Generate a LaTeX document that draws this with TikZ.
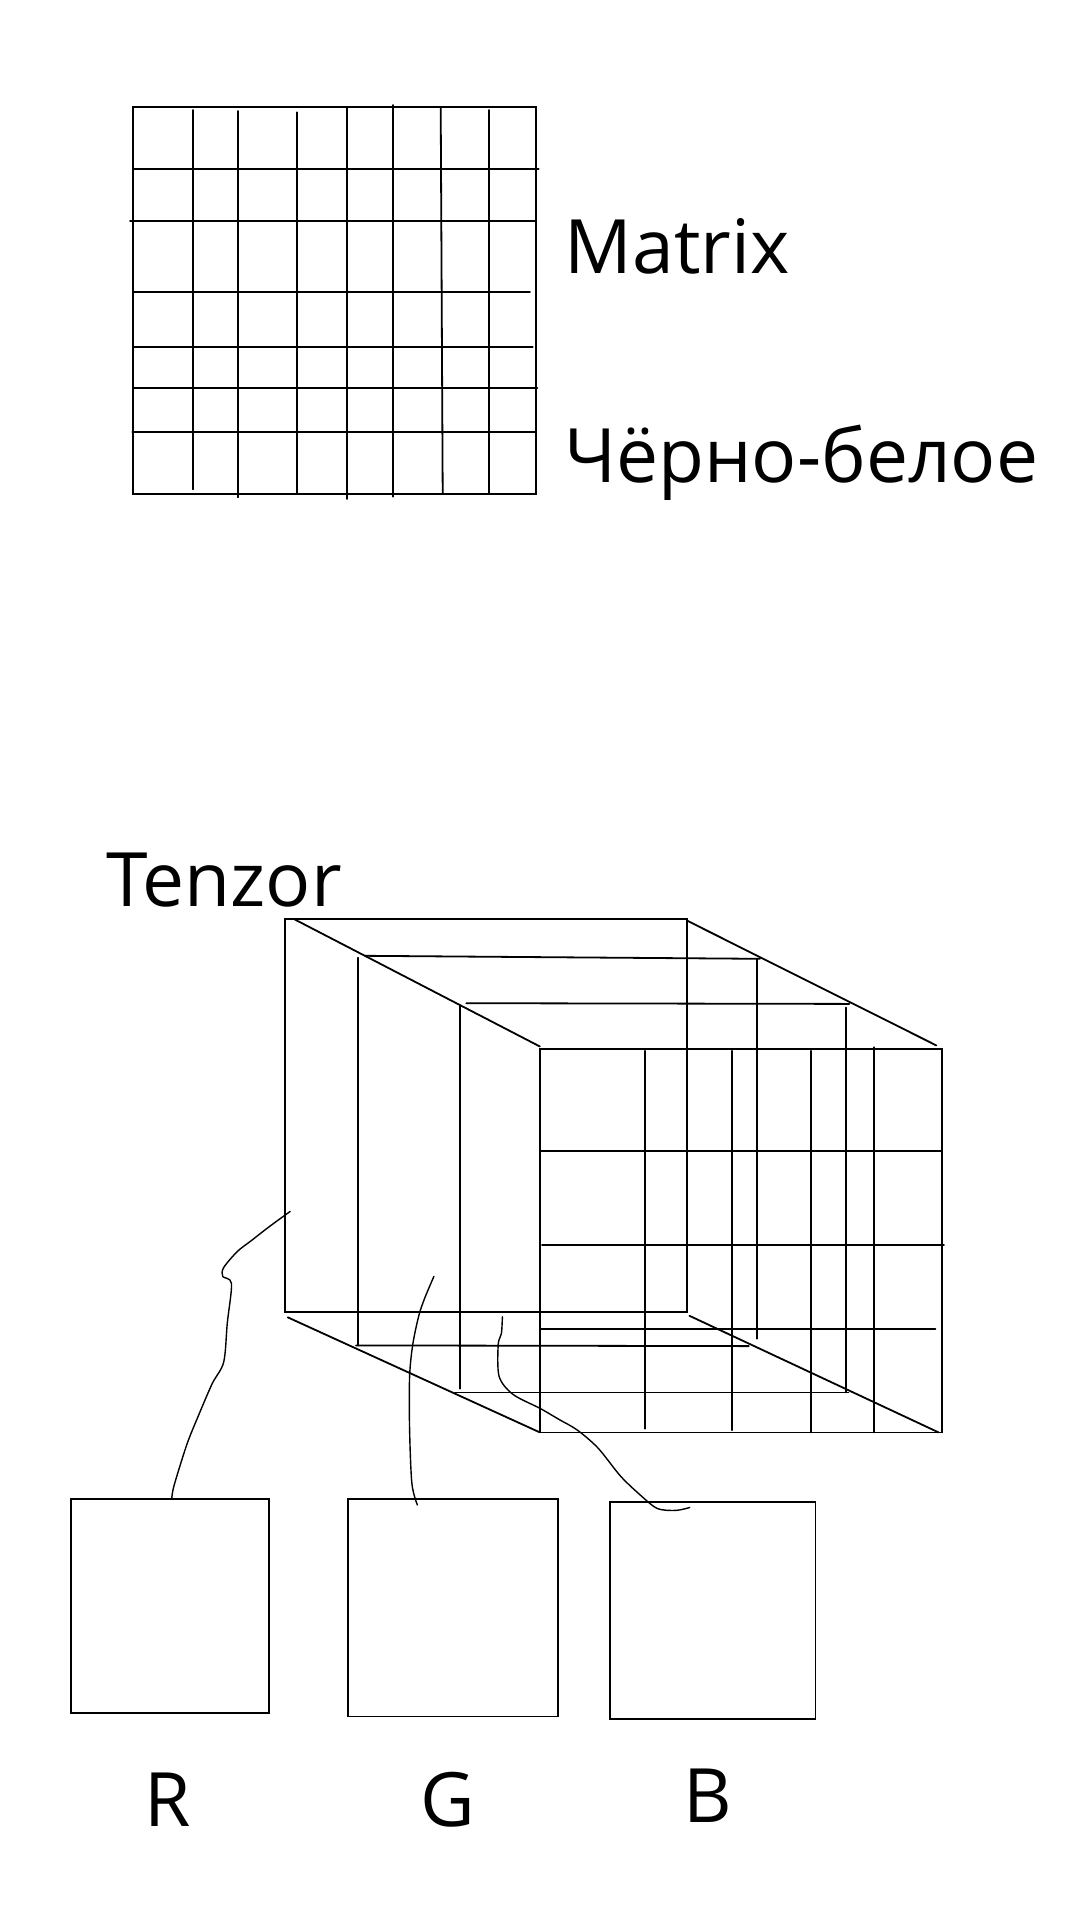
\documentclass[tikz,border=0pt]{standalone}
\usepackage{fontspec}
\setmainfont{Open Sans}
\begin{document}
\begin{tikzpicture}[x=1pt,y=-1pt,
  ln/.style={line width=1.8pt, line cap=round},
  wire/.style={line width=1.4pt, line cap=round, line join=round},
  chbox/.style={draw, line width=1.8pt, inner sep=0pt, outer sep=0pt},
  lbl/.style={anchor=base west, inner sep=0pt, font=\fontsize{75}{80}\selectfont}]
\useasboundingbox (0,0) rectangle (1080,1920);
\fill[white] (0,0) rectangle (1080,1920);

% ---------- Matrix grid ----------
\draw[ln] (133.3,106.7) rectangle (536,494);
\draw[ln] (193.3,110) -- (193.3,489.3);
\draw[ln] (238.3,111) -- (238.3,497.3);
\draw[ln] (297.3,112.3) -- (297.3,493);
\draw[ln] (346.7,107.3) -- (346.7,499);
\draw[ln] (392.7,105) -- (392.7,496.7);
\draw[ln] (440.7,107) -- (442.7,493);
\draw[ln] (489.3,110) -- (489.3,493);
\draw[ln] (133.3,168.7) -- (538.7,168.7);
\draw[ln] (130,220.7) -- (536,220.7);
\draw[ln] (133.3,291.7) -- (530,291.7);
\draw[ln] (133.3,346.7) -- (532.7,346.7);
\draw[ln] (133.3,388.3) -- (537.3,388.3);
\draw[ln] (132.3,431.7) -- (536,431.7);

\node[lbl] (matrix) at (564.5,273.3) {Matrix};
\node[lbl] (bw) at (564,482.7) {Чёрно-белое};

% ---------- Tensor cube ----------
\node[lbl] (tenzor) at (106,906) {Tenzor};
\draw[ln] (284.6,918.8) rectangle (687.2,1312.1);
\draw[ln] (539.9,1049.1) rectangle (941.7,1432.4);
\draw[ln] (293.5,918.8) -- (539.9,1046.5);
\draw[ln] (687.2,920.7) -- (936.3,1045.4);
\draw[ln] (287.7,1317.3) -- (539.9,1432.4);
\draw[ln] (689.5,1315.8) -- (938.6,1432.4);
% layer 1
\draw[ln] (358.2,957.7) -- (358.2,1345.4);
\draw[ln] (364.9,955.8) -- (760,958.8);
\draw[ln] (756.9,958.8) -- (756.9,1338.7);
\draw[ln] (356,1345.4) -- (748.8,1346.1);
% layer 2
\draw[ln] (459.6,1005.8) -- (459.6,1388.7);
\draw[ln] (466.3,1003.2) -- (849.3,1003.9);
\draw[ln] (846.2,1007.6) -- (846.2,1392.4);
\draw[ln] (455.1,1392.4) -- (848.4,1392.4);
% front grid
\draw[ln] (645.3,1050.9) -- (645.3,1428.7);
\draw[ln] (731.9,1050.9) -- (731.9,1430.1);
\draw[ln] (811.3,1050.9) -- (811.3,1432.4);
\draw[ln] (873.8,1047.2) -- (873.8,1432.4);
\draw[ln] (539.9,1151.2) -- (941.7,1151.2);
\draw[ln] (542.1,1245.1) -- (943.9,1245.1);
\draw[ln] (539.9,1328.8) -- (935.4,1328.8);

\coordinate (rend) at (290.2,1211.4);
\coordinate (gend) at (433.9,1276.4);
\coordinate (bend) at (502.4,1316.8);

% ---------- channel boxes ----------
\node[chbox, minimum width=197.9pt, minimum height=214.3pt] (rbox) at (169.75,1605.75) {};
\node[chbox, minimum width=209.8pt, minimum height=217.8pt] (gbox) at (453,1607.5) {};
\node[chbox, minimum width=205.7pt, minimum height=216.8pt] (bbox) at (712.65,1610.2) {};

\coordinate (gfoot) at (417.4,1505);
\coordinate (bfoot) at (689.7,1507.5);

\draw[wire] plot[smooth, tension=0.5] coordinates {([xshift=2pt]rbox.north) (174.1,1485.4) (186.9,1444.3) (198.4,1415.7) (212.2,1383.6) (223.7,1362.1) (227.3,1322.9) (231.5,1283.6) (222.7,1276.4) (223.7,1267.5) (237.4,1251.4) (251.2,1240.7) (269.6,1226.4) (rend)};
\draw[wire] plot[smooth, tension=0.5] coordinates {(gfoot) (411.9,1483.6) (409.6,1430) (409.6,1376.4) (412.8,1344.3) (418.8,1315.7) (424.8,1297.9) (gend)};
\draw[wire] plot[smooth, tension=0.5] coordinates {(bend) (501.4,1333.6) (498.2,1344.3) (499.1,1376.4) (512.9,1394.3) (540.5,1408.6) (558.8,1419.3) (577.2,1430) (597.9,1447.9) (620.8,1476.4) (641.5,1496.1) (657.5,1508.6) (675.9,1510.4) (bfoot)};

\node[lbl] (rlab) at (144.5,1826) {R};
\node[lbl] (glab) at (420.5,1826) {G};
\node[lbl] (blab) at (683.4,1822.7) {B};
\end{tikzpicture}
\end{document}
